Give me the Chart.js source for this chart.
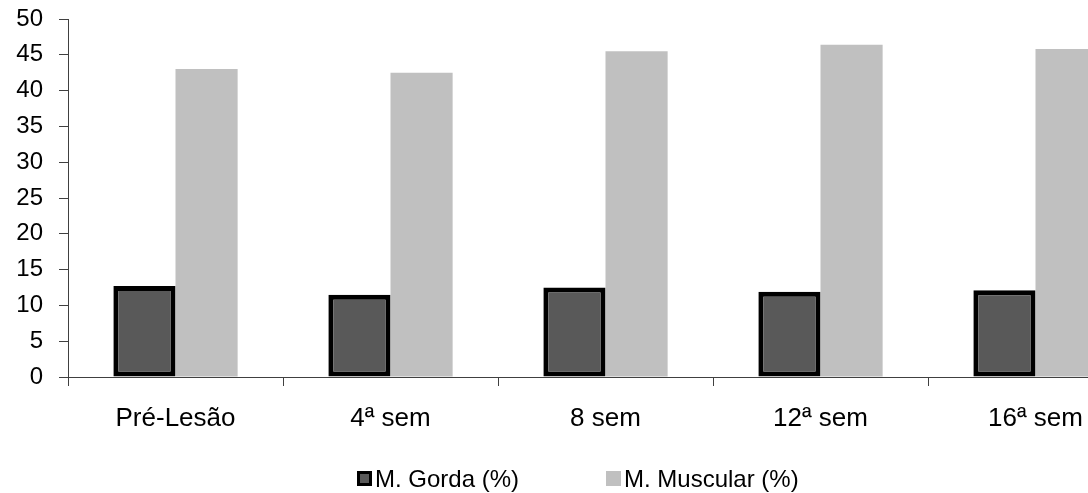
<!DOCTYPE html>
<html>
<head>
<meta charset="utf-8">
<script src="https://cdn.jsdelivr.net/npm/chart.js@4.4.0/dist/chart.umd.min.js"></script>
<style>
  html, body { margin: 0; padding: 0; background: #fff; overflow: hidden; width: 1088px; height: 493px; }
  #wrap { position: relative; width: 1088px; height: 493px; overflow: hidden; }
  #c { position: absolute; left: 0; top: 0; }
  .leg-item { position: absolute; top: 467px; height: 24px; }
  .leg-box { position: absolute; top: 4px; left: 0; width: 15px; height: 15px; box-sizing: border-box; }
  .leg-text { position: absolute; left: 18px; top: 0; font-family: "Liberation Sans", Arial, sans-serif; font-size: 24px; line-height: 24px; color: #000; white-space: nowrap; }
</style>
</head>
<body>
<div id="wrap">
  <canvas id="c" width="1150" height="493"></canvas>
  <div id="legend"></div>
</div>
<script>
// Body composition over the follow-up period
const categories = ['Pré-Lesão', '4ª sem', '8 sem', '12ª sem', '16ª sem'];
const seriesNames = ['M. Gorda (%)', 'M. Muscular (%)'];
const gordaValues = [12.7, 11.5, 12.5, 11.9, 12.1];
const muscularValues = [43.0, 42.5, 45.5, 46.4, 45.8];
const yMin = 0;
const yMax = 50;
const yStep = 5;

const FONT = '"Liberation Sans", Arial, sans-serif';
const AXIS_COLOR = '#404040';

const seriesStyles = [
  { backgroundColor: '#595959', borderColor: '#000000', borderWidth: 5 },
  { backgroundColor: '#c0c0c0', borderColor: '#c0c0c0', borderWidth: 0 }
];

const chart = new Chart(document.getElementById('c'), {
  type: 'bar',
  data: {
    labels: categories,
    datasets: [gordaValues, muscularValues].map((values, i) => ({
      label: seriesNames[i],
      data: values,
      backgroundColor: seriesStyles[i].backgroundColor,
      borderColor: seriesStyles[i].borderColor,
      borderWidth: seriesStyles[i].borderWidth,
      borderSkipped: false,
      categoryPercentage: 0.578,
      barPercentage: 1.0
    }))
  },
  options: {
    responsive: false,
    animation: false,
    devicePixelRatio: 1,
    layout: { padding: { left: 0, right: 7, top: 19, bottom: 0 } },
    plugins: {
      legend: { display: false },
      tooltip: { enabled: false }
    },
    scales: {
      x: {
        grid: { offset: true, drawOnChartArea: false, tickLength: 9, color: AXIS_COLOR, lineWidth: 1 },
        border: { display: true, color: AXIS_COLOR, width: 1 },
        ticks: { color: '#000', font: { family: FONT, size: 26 }, padding: 17, maxRotation: 0, autoSkip: false },
        afterFit(scale) {
          scale.height = 116;
          scale.paddingLeft = 0;
          scale.paddingRight = 0;
        }
      },
      y: {
        min: yMin,
        max: yMax,
        grid: { drawOnChartArea: false, tickLength: 9, color: AXIS_COLOR, lineWidth: 1 },
        border: { display: true, color: AXIS_COLOR, width: 1 },
        ticks: { stepSize: yStep, color: '#000', font: { family: FONT, size: 24 }, padding: 16 },
        afterFit(scale) {
          scale.width = 68;
          scale.paddingTop = 0;
          scale.paddingBottom = 0;
        }
      }
    }
  }
});

// Legend row below the axis
const legendPositions = [357, 606];
const legendEl = document.getElementById('legend');
seriesNames.forEach((name, i) => {
  const item = document.createElement('div');
  item.className = 'leg-item';
  item.style.left = legendPositions[i] + 'px';
  const box = document.createElement('div');
  box.className = 'leg-box';
  box.style.background = seriesStyles[i].backgroundColor;
  if (seriesStyles[i].borderWidth) {
    box.style.border = '3px solid ' + seriesStyles[i].borderColor;
  }
  const text = document.createElement('span');
  text.className = 'leg-text';
  text.textContent = name;
  item.appendChild(box);
  item.appendChild(text);
  legendEl.appendChild(item);
});
</script>
</body>
</html>
